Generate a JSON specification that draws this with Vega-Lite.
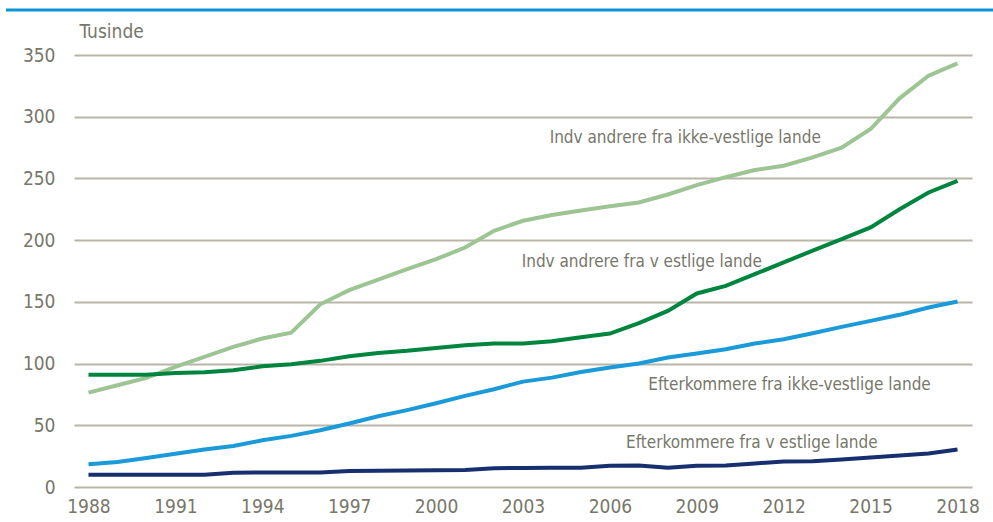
{
  "$schema": "https://vega.github.io/schema/vega-lite/v6.json",
  "width": 898,
  "height": 432,
  "autosize": {"type": "none"},
  "padding": {"left": 74, "top": 55, "right": 21, "bottom": 35},
  "background": "white",
  "config": {
    "view": {"stroke": null},
    "font": "DejaVu Sans Condensed",
    "axis": {"labelFont": "DejaVu Sans Condensed", "titleFont": "DejaVu Sans Condensed", "labelColor": "#77776a", "titleColor": "#77776a"}
  },
  "datasets": {
    "series": [
      {"year": 1988, "serie": "Indvandrere fra ikke-vestlige lande", "value": 76.5},
      {"year": 1989, "serie": "Indvandrere fra ikke-vestlige lande", "value": 82.4},
      {"year": 1990, "serie": "Indvandrere fra ikke-vestlige lande", "value": 88.4},
      {"year": 1991, "serie": "Indvandrere fra ikke-vestlige lande", "value": 97.3},
      {"year": 1992, "serie": "Indvandrere fra ikke-vestlige lande", "value": 105.4},
      {"year": 1993, "serie": "Indvandrere fra ikke-vestlige lande", "value": 113.5},
      {"year": 1994, "serie": "Indvandrere fra ikke-vestlige lande", "value": 120.3},
      {"year": 1995, "serie": "Indvandrere fra ikke-vestlige lande", "value": 125.1},
      {"year": 1996, "serie": "Indvandrere fra ikke-vestlige lande", "value": 148},
      {"year": 1997, "serie": "Indvandrere fra ikke-vestlige lande", "value": 159.5},
      {"year": 1998, "serie": "Indvandrere fra ikke-vestlige lande", "value": 168},
      {"year": 1999, "serie": "Indvandrere fra ikke-vestlige lande", "value": 176.5},
      {"year": 2000, "serie": "Indvandrere fra ikke-vestlige lande", "value": 184.6},
      {"year": 2001, "serie": "Indvandrere fra ikke-vestlige lande", "value": 194},
      {"year": 2002, "serie": "Indvandrere fra ikke-vestlige lande", "value": 207.6},
      {"year": 2003, "serie": "Indvandrere fra ikke-vestlige lande", "value": 215.7},
      {"year": 2004, "serie": "Indvandrere fra ikke-vestlige lande", "value": 220.3},
      {"year": 2005, "serie": "Indvandrere fra ikke-vestlige lande", "value": 224},
      {"year": 2006, "serie": "Indvandrere fra ikke-vestlige lande", "value": 227.5},
      {"year": 2007, "serie": "Indvandrere fra ikke-vestlige lande", "value": 230.5},
      {"year": 2008, "serie": "Indvandrere fra ikke-vestlige lande", "value": 237},
      {"year": 2009, "serie": "Indvandrere fra ikke-vestlige lande", "value": 244.6},
      {"year": 2010, "serie": "Indvandrere fra ikke-vestlige lande", "value": 251},
      {"year": 2011, "serie": "Indvandrere fra ikke-vestlige lande", "value": 256.8},
      {"year": 2012, "serie": "Indvandrere fra ikke-vestlige lande", "value": 260.3},
      {"year": 2013, "serie": "Indvandrere fra ikke-vestlige lande", "value": 267},
      {"year": 2014, "serie": "Indvandrere fra ikke-vestlige lande", "value": 275},
      {"year": 2015, "serie": "Indvandrere fra ikke-vestlige lande", "value": 290},
      {"year": 2016, "serie": "Indvandrere fra ikke-vestlige lande", "value": 314.9},
      {"year": 2017, "serie": "Indvandrere fra ikke-vestlige lande", "value": 333.2},
      {"year": 2018, "serie": "Indvandrere fra ikke-vestlige lande", "value": 343.2},
      {"year": 1988, "serie": "Indvandrere fra vestlige lande", "value": 91},
      {"year": 1989, "serie": "Indvandrere fra vestlige lande", "value": 91},
      {"year": 1990, "serie": "Indvandrere fra vestlige lande", "value": 91},
      {"year": 1991, "serie": "Indvandrere fra vestlige lande", "value": 92.4},
      {"year": 1992, "serie": "Indvandrere fra vestlige lande", "value": 93},
      {"year": 1993, "serie": "Indvandrere fra vestlige lande", "value": 94.6},
      {"year": 1994, "serie": "Indvandrere fra vestlige lande", "value": 97.8},
      {"year": 1995, "serie": "Indvandrere fra vestlige lande", "value": 99.5},
      {"year": 1996, "serie": "Indvandrere fra vestlige lande", "value": 102.2},
      {"year": 1997, "serie": "Indvandrere fra vestlige lande", "value": 106},
      {"year": 1998, "serie": "Indvandrere fra vestlige lande", "value": 108.6},
      {"year": 1999, "serie": "Indvandrere fra vestlige lande", "value": 110.3},
      {"year": 2000, "serie": "Indvandrere fra vestlige lande", "value": 112.7},
      {"year": 2001, "serie": "Indvandrere fra vestlige lande", "value": 114.9},
      {"year": 2002, "serie": "Indvandrere fra vestlige lande", "value": 116.2},
      {"year": 2003, "serie": "Indvandrere fra vestlige lande", "value": 116.2},
      {"year": 2004, "serie": "Indvandrere fra vestlige lande", "value": 118},
      {"year": 2005, "serie": "Indvandrere fra vestlige lande", "value": 121.4},
      {"year": 2006, "serie": "Indvandrere fra vestlige lande", "value": 124.3},
      {"year": 2007, "serie": "Indvandrere fra vestlige lande", "value": 132.7},
      {"year": 2008, "serie": "Indvandrere fra vestlige lande", "value": 142.7},
      {"year": 2009, "serie": "Indvandrere fra vestlige lande", "value": 156.8},
      {"year": 2010, "serie": "Indvandrere fra vestlige lande", "value": 163},
      {"year": 2011, "serie": "Indvandrere fra vestlige lande", "value": 172.4},
      {"year": 2012, "serie": "Indvandrere fra vestlige lande", "value": 182},
      {"year": 2013, "serie": "Indvandrere fra vestlige lande", "value": 191.5},
      {"year": 2014, "serie": "Indvandrere fra vestlige lande", "value": 200.8},
      {"year": 2015, "serie": "Indvandrere fra vestlige lande", "value": 210.3},
      {"year": 2016, "serie": "Indvandrere fra vestlige lande", "value": 225},
      {"year": 2017, "serie": "Indvandrere fra vestlige lande", "value": 238.6},
      {"year": 2018, "serie": "Indvandrere fra vestlige lande", "value": 248},
      {"year": 1988, "serie": "Efterkommere fra ikke-vestlige lande", "value": 18.4},
      {"year": 1989, "serie": "Efterkommere fra ikke-vestlige lande", "value": 20.3},
      {"year": 1990, "serie": "Efterkommere fra ikke-vestlige lande", "value": 23.5},
      {"year": 1991, "serie": "Efterkommere fra ikke-vestlige lande", "value": 27},
      {"year": 1992, "serie": "Efterkommere fra ikke-vestlige lande", "value": 30.3},
      {"year": 1993, "serie": "Efterkommere fra ikke-vestlige lande", "value": 33.2},
      {"year": 1994, "serie": "Efterkommere fra ikke-vestlige lande", "value": 37.8},
      {"year": 1995, "serie": "Efterkommere fra ikke-vestlige lande", "value": 41.4},
      {"year": 1996, "serie": "Efterkommere fra ikke-vestlige lande", "value": 46},
      {"year": 1997, "serie": "Efterkommere fra ikke-vestlige lande", "value": 51.4},
      {"year": 1998, "serie": "Efterkommere fra ikke-vestlige lande", "value": 57.3},
      {"year": 1999, "serie": "Efterkommere fra ikke-vestlige lande", "value": 62.3},
      {"year": 2000, "serie": "Efterkommere fra ikke-vestlige lande", "value": 67.8},
      {"year": 2001, "serie": "Efterkommere fra ikke-vestlige lande", "value": 73.8},
      {"year": 2002, "serie": "Efterkommere fra ikke-vestlige lande", "value": 79.2},
      {"year": 2003, "serie": "Efterkommere fra ikke-vestlige lande", "value": 85.4},
      {"year": 2004, "serie": "Efterkommere fra ikke-vestlige lande", "value": 88.6},
      {"year": 2005, "serie": "Efterkommere fra ikke-vestlige lande", "value": 93.2},
      {"year": 2006, "serie": "Efterkommere fra ikke-vestlige lande", "value": 96.8},
      {"year": 2007, "serie": "Efterkommere fra ikke-vestlige lande", "value": 100},
      {"year": 2008, "serie": "Efterkommere fra ikke-vestlige lande", "value": 104.9},
      {"year": 2009, "serie": "Efterkommere fra ikke-vestlige lande", "value": 108.1},
      {"year": 2010, "serie": "Efterkommere fra ikke-vestlige lande", "value": 111.6},
      {"year": 2011, "serie": "Efterkommere fra ikke-vestlige lande", "value": 116.2},
      {"year": 2012, "serie": "Efterkommere fra ikke-vestlige lande", "value": 119.7},
      {"year": 2013, "serie": "Efterkommere fra ikke-vestlige lande", "value": 124.6},
      {"year": 2014, "serie": "Efterkommere fra ikke-vestlige lande", "value": 129.7},
      {"year": 2015, "serie": "Efterkommere fra ikke-vestlige lande", "value": 134.6},
      {"year": 2016, "serie": "Efterkommere fra ikke-vestlige lande", "value": 139.5},
      {"year": 2017, "serie": "Efterkommere fra ikke-vestlige lande", "value": 145.4},
      {"year": 2018, "serie": "Efterkommere fra ikke-vestlige lande", "value": 150.3},
      {"year": 1988, "serie": "Efterkommere fra vestlige lande", "value": 10},
      {"year": 1989, "serie": "Efterkommere fra vestlige lande", "value": 10},
      {"year": 1990, "serie": "Efterkommere fra vestlige lande", "value": 10},
      {"year": 1991, "serie": "Efterkommere fra vestlige lande", "value": 10},
      {"year": 1992, "serie": "Efterkommere fra vestlige lande", "value": 10},
      {"year": 1993, "serie": "Efterkommere fra vestlige lande", "value": 11.6},
      {"year": 1994, "serie": "Efterkommere fra vestlige lande", "value": 11.7},
      {"year": 1995, "serie": "Efterkommere fra vestlige lande", "value": 11.7},
      {"year": 1996, "serie": "Efterkommere fra vestlige lande", "value": 11.8},
      {"year": 1997, "serie": "Efterkommere fra vestlige lande", "value": 13},
      {"year": 1998, "serie": "Efterkommere fra vestlige lande", "value": 13.2},
      {"year": 1999, "serie": "Efterkommere fra vestlige lande", "value": 13.4},
      {"year": 2000, "serie": "Efterkommere fra vestlige lande", "value": 13.6},
      {"year": 2001, "serie": "Efterkommere fra vestlige lande", "value": 13.8},
      {"year": 2002, "serie": "Efterkommere fra vestlige lande", "value": 15.2},
      {"year": 2003, "serie": "Efterkommere fra vestlige lande", "value": 15.4},
      {"year": 2004, "serie": "Efterkommere fra vestlige lande", "value": 15.5},
      {"year": 2005, "serie": "Efterkommere fra vestlige lande", "value": 15.6},
      {"year": 2006, "serie": "Efterkommere fra vestlige lande", "value": 17.3},
      {"year": 2007, "serie": "Efterkommere fra vestlige lande", "value": 17.4},
      {"year": 2008, "serie": "Efterkommere fra vestlige lande", "value": 15.7},
      {"year": 2009, "serie": "Efterkommere fra vestlige lande", "value": 17.2},
      {"year": 2010, "serie": "Efterkommere fra vestlige lande", "value": 17.5},
      {"year": 2011, "serie": "Efterkommere fra vestlige lande", "value": 19.1},
      {"year": 2012, "serie": "Efterkommere fra vestlige lande", "value": 20.6},
      {"year": 2013, "serie": "Efterkommere fra vestlige lande", "value": 20.8},
      {"year": 2014, "serie": "Efterkommere fra vestlige lande", "value": 22.3},
      {"year": 2015, "serie": "Efterkommere fra vestlige lande", "value": 23.9},
      {"year": 2016, "serie": "Efterkommere fra vestlige lande", "value": 25.5},
      {"year": 2017, "serie": "Efterkommere fra vestlige lande", "value": 27.2},
      {"year": 2018, "serie": "Efterkommere fra vestlige lande", "value": 30.3}
    ],
    "labels": [
      {"label": "Indv andrere fra ikke-vestlige lande", "year": 2008.6, "value": 283},
      {"label": "Indv andrere fra v estlige lande", "year": 2007.1, "value": 182.5},
      {"label": "Efterkommere fra ikke-vestlige lande", "year": 2012.2, "value": 82.7},
      {"label": "Efterkommere fra v estlige lande", "year": 2010.9, "value": 35.7}
    ]
  },
  "layer": [
    {
      "data": {"values": [{"a": 1}]},
      "mark": {"type": "rule", "color": "#0a93d7", "strokeWidth": 3, "clip": false},
      "encoding": {
        "x": {"datum": 1985.15, "type": "quantitative", "scale": {"domain": [1987.5, 2018.5]}},
        "x2": {"datum": 2019.3},
        "y": {"datum": 386.5, "type": "quantitative"}
      }
    },
    {
      "data": {"name": "series"},
      "mark": {"type": "line", "strokeWidth": 4, "interpolate": "linear"},
      "encoding": {
        "x": {
          "field": "year", "type": "quantitative",
          "scale": {"domain": [1987.5, 2018.5], "nice": false, "zero": false},
          "axis": {
            "values": [1988, 1991, 1994, 1997, 2000, 2003, 2006, 2009, 2012, 2015, 2018],
            "format": "d", "grid": false, "ticks": false, "domain": false,
            "labelFontSize": 19, "labelPadding": 10, "title": null
          }
        },
        "y": {
          "field": "value", "type": "quantitative",
          "scale": {"domain": [0, 350], "nice": false},
          "axis": {
            "values": [0, 50, 100, 150, 200, 250, 300, 350],
            "grid": true, "gridColor": "#b8b5a8", "gridWidth": 2,
            "ticks": false, "domain": false,
            "labelFontSize": 19, "labelPadding": 19,
            "title": "Tusinde", "titleAngle": 0, "titleAlign": "left",
            "titleBaseline": "middle", "titleX": 5, "titleY": -24,
            "titleFontSize": 19, "titleFontWeight": "normal"
          }
        },
        "color": {
          "field": "serie", "type": "nominal",
          "scale": {
            "domain": ["Indvandrere fra ikke-vestlige lande", "Indvandrere fra vestlige lande", "Efterkommere fra ikke-vestlige lande", "Efterkommere fra vestlige lande"],
            "range": ["#9dc493", "#00853f", "#1a9ad9", "#172f6e"]
          },
          "legend": null
        }
      }
    },
    {
      "data": {"name": "labels"},
      "mark": {"type": "text", "font": "DejaVu Sans Condensed", "fontSize": 17, "color": "#77776a", "align": "center", "baseline": "middle"},
      "encoding": {
        "x": {"field": "year", "type": "quantitative"},
        "y": {"field": "value", "type": "quantitative"},
        "text": {"field": "label"}
      }
    }
  ]
}
